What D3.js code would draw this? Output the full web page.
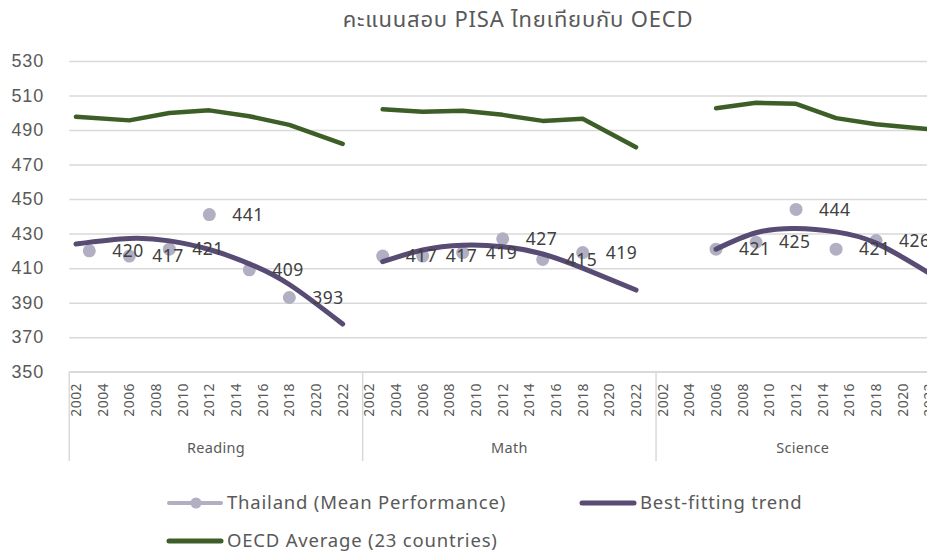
<!DOCTYPE html>
<html>
<head>
<meta charset="utf-8">
<script src="https://cdn.jsdelivr.net/npm/d3@7"></script>
<style>
  body { margin: 0; background: #fff; }
  svg { display: block; font-family: "Noto Sans Thai", "Noto Sans", "DejaVu Sans", sans-serif; }
</style>
</head>
<body>
<div id="chart"></div>
<script>
// categories
var subjects = ['Reading', 'Math', 'Science'];
var years = [2002, 2003, 2004, 2005, 2006, 2007, 2008, 2009, 2010, 2011, 2012,
             2013, 2014, 2015, 2016, 2017, 2018, 2019, 2020, 2021, 2022, 2023];
var yTicks = [350, 370, 390, 410, 430, 450, 470, 490, 510, 530];

// Thailand (Mean Performance)
var thaiReadingYears = [2003, 2006, 2009, 2012, 2015, 2018];
var thaiReading = [420, 417, 421, 441, 409, 393];
var thaiMathYears = [2003, 2006, 2009, 2012, 2015, 2018];
var thaiMath = [417, 417, 419, 427, 415, 419];
var thaiScienceYears = [2006, 2009, 2012, 2015, 2018];
var thaiScience = [421, 425, 444, 421, 426];

// OECD Average (23 countries)
var oecdReadingYears = [2002, 2006, 2009, 2012, 2015, 2018, 2022];
var oecdReading = [497.7, 495.6, 499.9, 501.4, 498, 493, 482];
var oecdMathYears = [2003, 2006, 2009, 2012, 2015, 2018, 2022];
var oecdMath = [502, 500.6, 501.2, 498.8, 495.3, 496.6, 480];
var oecdScienceYears = [2006, 2009, 2012, 2015, 2018, 2022];
var oecdScience = [502.6, 505.8, 505.2, 496.9, 493.4, 490.5];

// Best-fitting trend
var trendReadingYears = [2002, 2006, 2009, 2012, 2015, 2018, 2022];
var trendReading = [424, 427.2, 425.8, 420.8, 412.5, 400.5, 377.6];
var trendMathYears = [2003, 2006, 2009, 2012, 2015, 2018, 2022];
var trendMath = [413.7, 420.5, 423.3, 422.4, 418.2, 410, 397.3];
var trendScienceYears = [2006, 2009, 2012, 2015, 2018, 2022];
var trendScience = [421, 430.5, 433, 431, 424.5, 407];

var colThai = '#b1afc2';
var colTrend = '#584b74';
var colOecd = '#3d5e27';
var colText = '#595959';
var colGrid = '#d9d9d9';

var width = 927, height = 554;
var svg = d3.select('#chart').append('svg')
  .attr('width', width)
  .attr('height', height);

// x: one band per subject|year
var keys = [];
subjects.forEach(function (s) {
  years.forEach(function (y) { keys.push(s + '|' + y); });
});
var bandW = 13.335;
var xScale = d3.scaleBand()
  .domain(keys)
  .range([69.3, 69.3 + bandW * keys.length])
  .padding(0);
function cx(s, y) { return xScale(s + '|' + y) + xScale.bandwidth() / 2; }

var yScale = d3.scaleLinear()
  .domain([350, 530])
  .range([371.7, 61]);

// title
svg.append('text')
  .attr('x', 518).attr('y', 27)
  .attr('text-anchor', 'middle')
  .attr('font-size', 22)
  .attr('letter-spacing', 0.8)
  .attr('fill', colText)
  .text('คะแนนสอบ PISA ไทยเทียบกับ OECD');

// gridlines
var grid = svg.append('g')
  .attr('transform', 'translate(69.3,0)')
  .call(d3.axisLeft(yScale).tickValues(yTicks).tickSize(-(width - 69.3)).tickFormat(''));
grid.select('.domain').remove();
grid.selectAll('line').attr('stroke', colGrid).attr('stroke-width', 1.5);

// y labels
var yAxis = svg.append('g')
  .attr('transform', 'translate(44,0)')
  .call(d3.axisLeft(yScale).tickValues(yTicks).tickSize(0).tickPadding(0));
yAxis.select('.domain').remove();
yAxis.selectAll('text')
  .attr('font-size', 18)
  .attr('letter-spacing', 0.8)
  .attr('font-family', null)
  .attr('fill', colText);

// x axis line + group dividers
var baseY = yScale(350);
svg.append('line')
  .attr('x1', 69.3).attr('x2', width)
  .attr('y1', baseY).attr('y2', baseY)
  .attr('stroke', colGrid).attr('stroke-width', 1.5);

var groupEdges = subjects.map(function (s) { return xScale(s + '|2002'); });
groupEdges.push(xScale('Science|2023') + xScale.bandwidth());
svg.selectAll('.divider')
  .data(groupEdges)
  .enter().append('line')
  .attr('class', 'divider')
  .attr('x1', function (d) { return d; }).attr('x2', function (d) { return d; })
  .attr('y1', baseY).attr('y2', 461)
  .attr('stroke', colGrid).attr('stroke-width', 1.5);

// year tick labels (every other year)
var labelYears = years.filter(function (y) { return y % 2 === 0; });
subjects.forEach(function (s) {
  svg.selectAll('.yl-' + s)
    .data(labelYears)
    .enter().append('text')
    .attr('transform', function (y) { return 'translate(' + (cx(s, y) + 5) + ',383) rotate(-90)'; })
    .attr('text-anchor', 'end')
    .attr('font-size', 14)
    .attr('letter-spacing', 0.4)
    .attr('fill', colText)
    .text(function (y) { return y; });

  svg.append('text')
    .attr('x', (xScale(s + '|2002') + xScale(s + '|2023') + xScale.bandwidth()) / 2)
    .attr('y', 453)
    .attr('text-anchor', 'middle')
    .attr('font-size', 14.5)
    .attr('letter-spacing', 0.3)
    .attr('fill', colText)
    .text(s);
});

function pts(s, ys, vs) {
  return ys.map(function (y, i) { return { s: s, year: y, value: vs[i] }; });
}

var thai = [pts('Reading', thaiReadingYears, thaiReading),
            pts('Math', thaiMathYears, thaiMath),
            pts('Science', thaiScienceYears, thaiScience)];
var oecd = [pts('Reading', oecdReadingYears, oecdReading),
            pts('Math', oecdMathYears, oecdMath),
            pts('Science', oecdScienceYears, oecdScience)];
var trend = [pts('Reading', trendReadingYears, trendReading),
             pts('Math', trendMathYears, trendMath),
             pts('Science', trendScienceYears, trendScience)];

var allThai = [].concat(thai[0], thai[1], thai[2]);

// thailand dots
svg.selectAll('.dot')
  .data(allThai)
  .enter().append('circle')
  .attr('class', 'dot')
  .attr('cx', function (d) { return cx(d.s, d.year); })
  .attr('cy', function (d) { return yScale(d.value); })
  .attr('r', 6.5)
  .attr('fill', colThai);

// trend lines
var trendLine = d3.line()
  .x(function (d) { return cx(d.s, d.year); })
  .y(function (d) { return yScale(d.value); })
  .curve(d3.curveNatural);
svg.selectAll('.trend')
  .data(trend)
  .enter().append('path')
  .attr('d', trendLine)
  .attr('fill', 'none')
  .attr('stroke', colTrend)
  .attr('stroke-width', 5)
  .attr('stroke-linecap', 'round');

// oecd lines
var oecdLine = d3.line()
  .x(function (d) { return cx(d.s, d.year); })
  .y(function (d) { return yScale(d.value); });
svg.selectAll('.oecd')
  .data(oecd)
  .enter().append('path')
  .attr('d', oecdLine)
  .attr('fill', 'none')
  .attr('stroke', colOecd)
  .attr('stroke-width', 4.5)
  .attr('stroke-linecap', 'round')
  .attr('stroke-linejoin', 'round');

// data labels
svg.selectAll('.dlabel')
  .data(allThai)
  .enter().append('text')
  .attr('x', function (d) { return cx(d.s, d.year) + 23; })
  .attr('y', function (d) { return yScale(d.value); })
  .attr('dy', '0.35em')
  .attr('font-size', 17.5)
  .attr('letter-spacing', 0.5)
  .attr('fill', '#404040')
  .text(function (d) { return d.value; });

// legend
var legend = svg.append('g');
var legendItems = [
  { name: 'Thailand (Mean Performance)', color: colThai, w: 4, dot: true, x: 167, y: 503 },
  { name: 'Best-fitting trend', color: colTrend, w: 5, dot: false, x: 580, y: 503 },
  { name: 'OECD Average (23 countries)', color: colOecd, w: 5, dot: false, x: 167, y: 541 }
];
legendItems.forEach(function (d) {
  legend.append('line')
    .attr('x1', d.x + 2).attr('x2', d.x + 54)
    .attr('y1', d.y).attr('y2', d.y)
    .attr('stroke', d.color).attr('stroke-width', d.w)
    .attr('stroke-linecap', 'round');
  if (d.dot) {
    legend.append('circle')
      .attr('cx', d.x + 29).attr('cy', d.y).attr('r', 5.5)
      .attr('fill', d.color);
  }
  legend.append('text')
    .attr('x', d.x + 60).attr('y', d.y)
    .attr('dy', '0.35em')
    .attr('font-size', 18.5)
    .attr('letter-spacing', 0.8)
    .attr('fill', colText)
    .text(d.name);
});
</script>
</body>
</html>
